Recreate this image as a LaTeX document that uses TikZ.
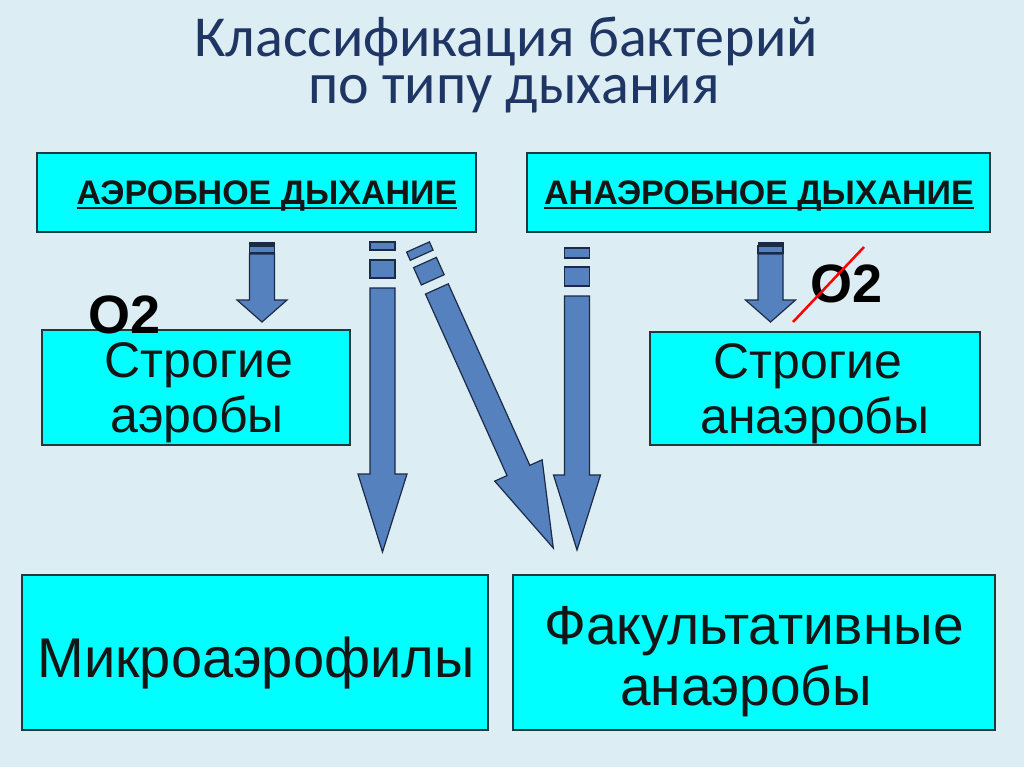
\documentclass[tikz,border=0pt]{standalone}
\usepackage{fontspec}
\setmainfont{Liberation Sans}
\newfontfamily\titlefont{Carlito}
\definecolor{bgc}{HTML}{DCEDF3}
\definecolor{titlec}{HTML}{1F3563}
\definecolor{boxfill}{HTML}{00FFFF}
\definecolor{boxline}{HTML}{1E3A40}
\definecolor{arrowblue}{HTML}{5681BF}
\definecolor{arrowline}{HTML}{1C2A45}
\definecolor{txtc}{HTML}{151515}
\newcommand\myul[1]{\setbox0\hbox{#1}\rlap{\rule[-4pt]{\wd0}{1.5pt}}\box0}
\tikzset{
  box/.style={draw=boxline, line width=1.5, fill=boxfill, inner sep=0pt},
  lbl/.style={inner sep=0pt, anchor=base, text=txtc},
  head/.style={lbl, font=\bfseries\fontsize{34}{36}\selectfont},
  midtxt/.style={lbl, font=\fontsize{50}{55}\selectfont},
  bigtxt/.style={lbl, font=\fontsize{56}{60}\selectfont},
  factxt/.style={lbl, font=\fontsize{55}{60}\selectfont},
  ttl/.style={anchor=base, align=center, text=titlec, inner sep=0pt, font=\titlefont\fontsize{58}{47}\selectfont},
  barrow/.style={fill=arrowblue, draw=arrowline, line width=1.2, line join=miter},
  bbar/.style={fill=arrowline, draw=arrowline, line width=0.6},
  otext/.style={font=\bfseries\fontsize{54}{54}\selectfont, text=black, inner sep=0pt, anchor=base west},
}
\begin{document}
\begin{tikzpicture}[x=1pt,y=-1pt]
\fill[bgc] (0,0) rectangle (1024,767);
\useasboundingbox (0,0) rectangle (1024,767);

% title
\node[ttl] (title) at (506,104) {Классификация бактерий\\\hspace*{16pt}по типу дыхания};

% boxes
\node[box, minimum width=439, minimum height=79] (aer) at (256.5,192.5) {};
\node[box, minimum width=463, minimum height=79] (anaer) at (758.5,192.5) {};
\node[box, minimum width=308, minimum height=115] (saer) at (196,387.5) {};
\node[box, minimum width=330, minimum height=113] (sanaer) at (815,388.5) {};
\node[box, minimum width=466, minimum height=155] (micro) at (255,652.5) {};
\node[box, minimum width=482, minimum height=155] (fac) at (754,652.5) {};

% box texts
\node[head] (aert) at (267,205) {\myul{АЭРОБНОЕ ДЫХАНИЕ}};
\node[head] (anaert) at (759,205) {\myul{АНАЭРОБНОЕ ДЫХАНИЕ}};
\node[midtxt] (saer1) at (199,377) {Строгие};
\node[midtxt] (saer2) at (197,432) {аэробы};
\node[midtxt] (sanaer1) at (808,378) {Строгие};
\node[midtxt] (sanaer2) at (815,433) {анаэробы};
\node[bigtxt] (microt) at (256,677) {Микроаэрофилы};
\node[factxt] (fac1) at (754,644) {Факультативные};
\node[factxt] (fac2) at (746,705) {анаэробы};

% arrow 1: aerobic -> strict aerobes
\coordinate (a1) at (262,242);
\begin{scope}[shift={(a1)}]
\path[bbar] (-12.5,0) rectangle (12.5,2.5);
\path[barrow] (-12.5,4) rectangle (12.5,11);
\path[barrow] (-12.5,12) -- (12.5,12) -- (12.5,58) -- (25,58) -- (0,80) -- (-25,58) -- (-12.5,58) -- cycle;
\end{scope}

% arrow 5: anaerobic -> strict anaerobes
\coordinate (a5) at (770.5,242);
\begin{scope}[shift={(a5)}]
\path[bbar] (-12.5,0) rectangle (12.5,2.5);
\path[barrow] (-12.5,4) rectangle (12.5,11);
\path[barrow] (-12.5,12) -- (12.5,12) -- (12.5,58) -- (25,58) -- (0,80) -- (-25,58) -- (-12.5,58) -- cycle;
\end{scope}

% arrow 2: aerobic -> microaerophiles
\coordinate (a2) at (382.5,242);
\begin{scope}[shift={(a2)}]
\path[barrow] (-12.5,0) rectangle (12.5,8);
\path[barrow] (-12.5,18) rectangle (12.5,36);
\path[barrow] (-12.5,46) -- (12.5,46) -- (12.5,232) -- (24.5,232) -- (0,310) -- (-24.5,232) -- (-12.5,232) -- cycle;
\end{scope}

% arrow 3: aerobic -> facultative (diagonal)
\coordinate (a3) at (418,247);
\begin{scope}[shift={(a3)}, rotate=24.2]
\path[barrow] (-12.5,0) rectangle (12.5,9);
\path[barrow] (-12.5,17) rectangle (12.5,36);
\path[barrow] (-12.5,46) -- (12.5,46) -- (12.5,245) -- (26,245) -- (0,330) -- (-26,245) -- (-12.5,245) -- cycle;
\end{scope}

% arrow 4: anaerobic -> facultative
\coordinate (a4) at (577,248);
\begin{scope}[shift={(a4)}]
\path[barrow] (-12.5,0) rectangle (12.5,10);
\path[barrow] (-12.5,19) rectangle (12.5,38);
\path[barrow] (-12.5,48) -- (12.5,48) -- (12.5,227) -- (23.5,227) -- (0,302) -- (-23.5,227) -- (-12.5,227) -- cycle;
\end{scope}

% O2 labels
\node[otext] (o2l) at (88,333) {O2};
\node[otext] (o2r) at (810,302) {O2};
\draw[red, line width=2.5] (793,322) -- (864,247);
\end{tikzpicture}
\end{document}
